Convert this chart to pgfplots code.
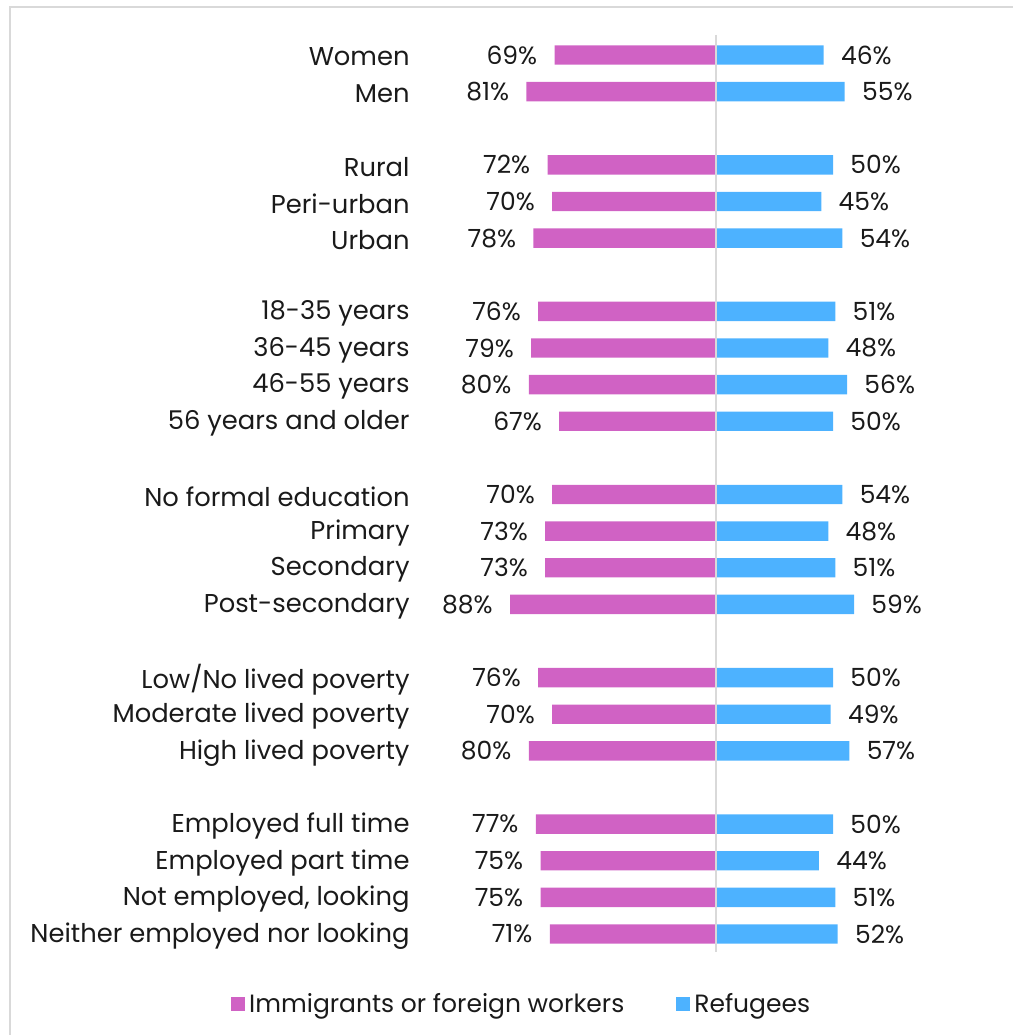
\documentclass[border=0pt]{standalone}
\usepackage{pgfplots}
\pgfplotsset{compat=1.18}
\usepackage{fontspec}
\setmainfont{Poppins}
\definecolor{pinkbar}{HTML}{D062C4}
\definecolor{bluebar}{HTML}{4DB2FF}
\definecolor{frame}{HTML}{D9D9D9}
\definecolor{txt}{HTML}{1A1A1A}
\tikzset{catlab/.style={anchor=east, inner sep=0pt, yshift=-1pt, text=txt, font=\fontsize{12.9pt}{15pt}\selectfont}}
\begin{document}
\begin{tikzpicture}
\begin{axis}[
  scale only axis,
  width=506.5pt, height=517.5pt,
  xmin=-305.98, xmax=126.92,
  ymin=-1.5017, ymax=26.758,
  y dir=reverse,
  axis lines=none,
  clip=false,
  xbar, bar width=0.53, bar shift=0pt,
  point meta=explicit symbolic,
  nodes near coords={\pgfplotspointmeta\%},
  every node near coord/.append style={font=\fontsize{12.5pt}{15pt}\selectfont, text=txt, inner sep=0pt},
  legend columns=2,
  legend style={draw=none, fill=none, at={(rel axis cs:0.516,0.030)}, anchor=center,
    font=\fontsize{12.5pt}{15pt}\selectfont, text=txt,
    /tikz/every even column/.append style={column sep=24pt},
    inner sep=0pt},
  legend image code/.code={\fill[#1] (0pt,-3.5pt) rectangle (7pt,3.5pt);},
]
\addplot[fill=pinkbar, draw=none, nodes near coords align={anchor=east}, every node near coord/.append style={xshift=-8.5pt}] coordinates {
(-69,0) [69]
(-81,1) [81]
(-72,3) [72]
(-70,4) [70]
(-78,5) [78]
(-76,7) [76]
(-79,8) [79]
(-80,9) [80]
(-67,10) [67]
(-70,12) [70]
(-73,13) [73]
(-73,14) [73]
(-88,15) [88]
(-76,17) [76]
(-70,18) [70]
(-80,19) [80]
(-77,21) [77]
(-75,22) [75]
(-75,23) [75]
(-71,24) [71]
};
\addlegendentry{Immigrants or foreign workers}
\addplot[fill=bluebar, draw=none, nodes near coords align={anchor=west}, every node near coord/.append style={xshift=8.5pt}] coordinates {
(46,0) [46]
(55,1) [55]
(50,3) [50]
(45,4) [45]
(54,5) [54]
(51,7) [51]
(48,8) [48]
(56,9) [56]
(50,10) [50]
(54,12) [54]
(48,13) [48]
(51,14) [51]
(59,15) [59]
(50,17) [50]
(49,18) [49]
(57,19) [57]
(50,21) [50]
(44,22) [44]
(51,23) [51]
(52,24) [52]
};
\addlegendentry{Refugees}
\draw[frame, line width=0.8pt] (axis cs:0,-0.55) -- (axis cs:0,24.49);
\draw[frame, line width=1pt] (rel axis cs:0.00987,0) -- (rel axis cs:0.00987,0.99324) -- (rel axis cs:1,0.99324);
\node[catlab] at (axis cs:-130.8,0) {Women};
\node[catlab] at (axis cs:-130.8,1) {Men};
\node[catlab] at (axis cs:-130.8,3) {Rural};
\node[catlab] at (axis cs:-130.8,4) {Peri-urban};
\node[catlab] at (axis cs:-130.8,5) {Urban};
\node[catlab] at (axis cs:-130.8,7) {18-35 years};
\node[catlab] at (axis cs:-130.8,8) {36-45 years};
\node[catlab] at (axis cs:-130.8,9) {46-55 years};
\node[catlab] at (axis cs:-130.8,10) {56 years and older};
\node[catlab] at (axis cs:-130.8,12) {No formal education};
\node[catlab] at (axis cs:-130.8,13) {Primary};
\node[catlab] at (axis cs:-130.8,14) {Secondary};
\node[catlab] at (axis cs:-130.8,15) {Post-secondary};
\node[catlab] at (axis cs:-130.8,17) {Low/No lived poverty};
\node[catlab] at (axis cs:-130.8,18) {Moderate lived poverty};
\node[catlab] at (axis cs:-130.8,19) {High lived poverty};
\node[catlab] at (axis cs:-130.8,21) {Employed full time};
\node[catlab] at (axis cs:-130.8,22) {Employed part time};
\node[catlab] at (axis cs:-130.8,23) {Not employed, looking};
\node[catlab] at (axis cs:-130.8,24) {Neither employed nor looking};
\end{axis}
\pgfresetboundingbox
\path (0,0) rectangle (506.5pt,517.5pt);
\end{tikzpicture}
\end{document}
